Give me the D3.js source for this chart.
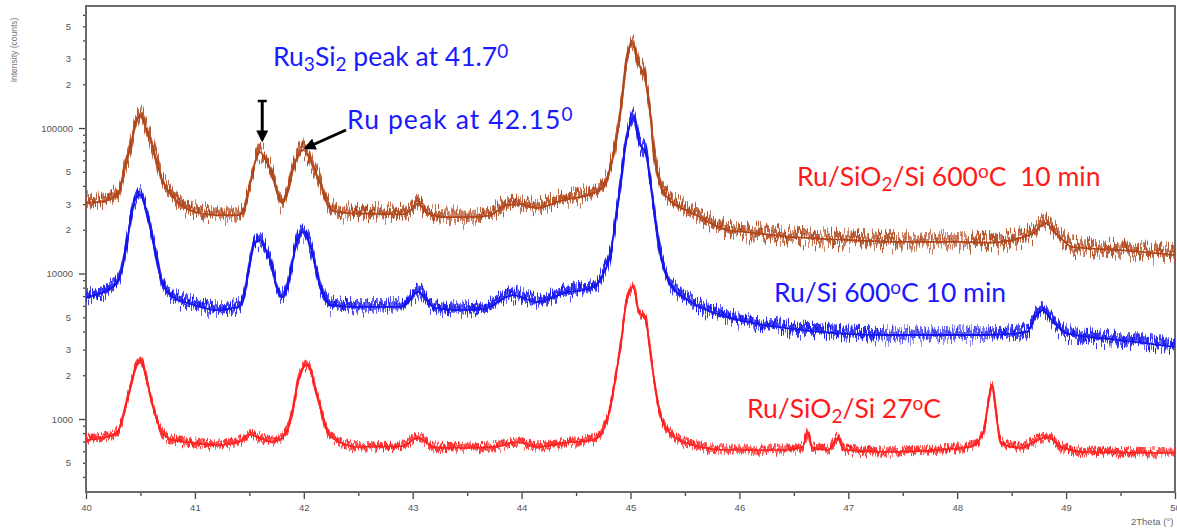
<!DOCTYPE html>
<html>
<head>
<meta charset="utf-8">
<script src="https://cdn.jsdelivr.net/npm/d3@7/dist/d3.min.js"></script>
<style>
  html, body { margin: 0; padding: 0; background: #fff; }
  svg { display: block; }
  .tick text { font-family: "Liberation Sans", Arial, sans-serif; fill: #555; }
  .note { font-family: Lato, "Noto Sans", sans-serif; white-space: pre; }
</style>
</head>
<body>
<svg id="chart" width="1177" height="529"></svg>
<script>
// XRD patterns, 2Theta (degrees) vs intensity (counts), log scale

// Ru/SiO2/Si annealed at 600 °C for 10 min
const annealedOxideTheta = [40.00, 40.10, 40.20, 40.30, 40.35, 40.40, 40.45, 40.50, 40.55, 40.60, 40.65, 40.70, 40.80, 40.90, 41.00, 41.20, 41.40, 41.45, 41.50, 41.55, 41.60, 41.65, 41.70, 41.75, 41.80, 41.85, 41.90, 41.95, 42.00, 42.05, 42.10, 42.15, 42.20, 42.25, 42.40, 42.60, 42.90, 43.00, 43.05, 43.12, 43.30, 43.50, 43.70, 43.87, 44.00, 44.14, 44.38, 44.66, 44.75, 44.81, 44.87, 44.92, 44.96, 45.02, 45.07, 45.13, 45.18, 45.22, 45.27, 45.36, 45.57, 45.89, 46.00, 46.50, 47.00, 47.50, 48.00, 48.30, 48.58, 48.70, 48.81, 48.92, 49.06, 49.50, 50.00];
const annealedOxideCounts = [30500, 31000, 32000, 35700, 51400, 70600, 101600, 123000, 100000, 78900, 58400, 44000, 33600, 28700, 26500, 25200, 25200, 27000, 39300, 57400, 68400, 60200, 49900, 37500, 30500, 35700, 51400, 65200, 70600, 62200, 51400, 41900, 32000, 27300, 26000, 25800, 25500, 28000, 30500, 26500, 24400, 24400, 25000, 29600, 30000, 28200, 32000, 35700, 39300, 51400, 82700, 148000, 280000, 384000, 280000, 224000, 127000, 63200, 41900, 32000, 26100, 19900, 19500, 17800, 17000, 16500, 16500, 16300, 17600, 19000, 22200, 18400, 15200, 14500, 13400];

// Ru/Si annealed at 600 °C for 10 min
const annealedSiTheta = [40.00, 40.20, 40.30, 40.35, 40.40, 40.45, 40.50, 40.55, 40.60, 40.65, 40.70, 40.80, 40.90, 41.00, 41.20, 41.40, 41.45, 41.50, 41.55, 41.60, 41.65, 41.70, 41.75, 41.80, 41.85, 41.90, 41.95, 42.00, 42.05, 42.10, 42.15, 42.20, 42.25, 42.50, 42.90, 43.05, 43.20, 43.40, 43.65, 43.92, 44.14, 44.38, 44.66, 44.75, 44.81, 44.86, 44.91, 44.95, 45.00, 45.03, 45.08, 45.14, 45.18, 45.23, 45.28, 45.36, 45.57, 45.89, 46.43, 47.36, 48.27, 48.64, 48.72, 48.78, 48.89, 49.00, 49.50, 50.00];
const annealedSiCounts = [6890, 7700, 9020, 12400, 20900, 32000, 34700, 27300, 19000, 12400, 8610, 6890, 6370, 6070, 5610, 5890, 6890, 11100, 16200, 17000, 14500, 11800, 8080, 6890, 8080, 12400, 17800, 19300, 16200, 11800, 8080, 6580, 6070, 5890, 5900, 7470, 5800, 5610, 5700, 7110, 6370, 7300, 8080, 9940, 13000, 22200, 41900, 74000, 108000, 119000, 78900, 67300, 44000, 22200, 13000, 8610, 6270, 5030, 4220, 3780, 3780, 3960, 5030, 5610, 4570, 3900, 3490, 3130];

// Ru/SiO2/Si as deposited, 27 °C
const asDepositedTheta = [40.00, 40.20, 40.30, 40.35, 40.40, 40.45, 40.50, 40.55, 40.60, 40.65, 40.70, 40.80, 41.00, 41.20, 41.40, 41.50, 41.60, 41.70, 41.80, 41.85, 41.90, 41.95, 42.00, 42.03, 42.08, 42.10, 42.15, 42.20, 42.25, 42.50, 42.90, 43.05, 43.20, 43.50, 43.80, 43.95, 44.14, 44.38, 44.66, 44.75, 44.81, 44.87, 44.92, 44.96, 45.03, 45.07, 45.14, 45.18, 45.23, 45.28, 45.36, 45.57, 45.89, 46.43, 46.58, 46.63, 46.67, 46.82, 46.90, 46.96, 47.36, 48.12, 48.24, 48.29, 48.32, 48.35, 48.40, 48.58, 48.74, 48.83, 48.95, 49.20, 50.00];
const asDepositedCounts = [718, 752, 840, 1100, 1580, 2170, 2540, 1940, 1350, 985, 802, 718, 684, 662, 695, 776, 741, 695, 741, 840, 1150, 1850, 2280, 2350, 1940, 1660, 1210, 881, 752, 642, 650, 741, 640, 632, 650, 695, 642, 684, 718, 840, 1150, 2070, 3660, 6270, 8080, 5610, 4790, 2980, 1580, 1030, 802, 662, 612, 612, 642, 815, 632, 612, 741, 612, 593, 642, 802, 1350, 1710, 1210, 684, 632, 718, 752, 642, 593, 584];

// Axis ticks
const xMajorTicks = [40, 41, 42, 43, 44, 45, 46, 47, 48, 49, 50];
const xMinorTicks = [40.5, 41.5, 42.5, 43.5, 44.5, 45.5, 46.5, 47.5, 48.5, 49.5];
const yMajorTicks = [1000, 10000, 100000];
const yMinorTicks = [400, 500, 600, 700, 800, 900,
  2000, 3000, 4000, 5000, 6000, 7000, 8000, 9000,
  20000, 30000, 40000, 50000, 60000, 70000, 80000, 90000,
  200000, 300000, 400000, 500000, 600000];
const yMinorLabelled = [2, 3, 5];

const svg = d3.select("#chart");
const plotLeft = 86, plotRight = 1175, plotTop = 6, plotBottom = 492;

const x = d3.scaleLinear().domain([40, 50]).range([plotLeft, plotRight]);
const y = d3.scaleLog().domain([315, 690000]).range([plotBottom, plotTop]);

// Counting-noise texture for the traces: the stroke is stretched vertically
// only, then each pixel column is shifted up or down.
const defs = svg.append("defs");
function noiseFilter(id, stretch, scale, seed, freq) {
  const f = defs.append("filter").attr("id", id)
    .attr("filterUnits", "userSpaceOnUse")
    .attr("color-interpolation-filters", "sRGB")
    .attr("x", 0).attr("y", 0).attr("width", 1177).attr("height", 529);
  f.append("feMorphology").attr("in", "SourceGraphic").attr("operator", "dilate")
    .attr("radius", `0 ${stretch}`).attr("result", "tall");
  f.append("feTurbulence").attr("type", "fractalNoise")
    .attr("baseFrequency", `${freq} 0.01`).attr("numOctaves", 1)
    .attr("seed", seed).attr("result", "n");
  f.append("feColorMatrix").attr("in", "n").attr("type", "matrix")
    .attr("values", "2.6 0 0 0 -0.68  0 0 0 0 0.5  0 0 0 0 0  0 0 0 0 1")
    .attr("result", "m");
  f.append("feDisplacementMap").attr("in", "tall").attr("in2", "m")
    .attr("scale", scale).attr("xChannelSelector", "G").attr("yChannelSelector", "R");
}
noiseFilter("noiseBrownA", 2, 20, 4, 1.4);
noiseFilter("noiseBrownB", 3, 12, 11, 0.8);
noiseFilter("noiseBlueA", 2, 17, 9, 1.4);
noiseFilter("noiseBlueB", 2.5, 10, 17, 0.8);
noiseFilter("noiseRedA", 1, 10, 2, 1.4);
noiseFilter("noiseRedB", 1.5, 6, 23, 0.8);

defs.append("marker").attr("id", "head")
  .attr("viewBox", "0 0 10 10").attr("refX", 8).attr("refY", 5)
  .attr("markerWidth", 4).attr("markerHeight", 4).attr("orient", "auto")
  .append("path").attr("d", "M0,0 L10,5 L0,10 Z").attr("fill", "#000");

// Axes
const axisFont = 9.5, axisColor = "#6a6a6a";

const gx = svg.append("g").attr("transform", `translate(0,${plotBottom})`);
gx.call(d3.axisBottom(x).tickValues(xMajorTicks).tickSize(7).tickPadding(5).tickFormat(d3.format("d")));
gx.append("g").call(d3.axisBottom(x).tickValues(xMinorTicks).tickSize(4).tickFormat(""));
gx.selectAll(".domain").remove();
gx.selectAll("line").attr("stroke", "#444").attr("stroke-width", 1.3);
gx.selectAll("text").attr("font-size", axisFont);

const gy = svg.append("g").attr("transform", `translate(${plotLeft},0)`);
gy.call(d3.axisLeft(y).tickValues(yMajorTicks).tickSize(7).tickPadding(6).tickFormat(d3.format("d")));
gy.append("g").call(d3.axisLeft(y).tickValues(yMinorTicks).tickSize(3).tickPadding(12)
  .tickFormat(d => {
    const lead = Math.round(d / Math.pow(10, Math.floor(Math.log10(d) + 1e-9)));
    return yMinorLabelled.includes(lead) ? String(lead) : "";
  }));
gy.selectAll(".domain").remove();
gy.selectAll("line").attr("stroke", "#444").attr("stroke-width", 1.3);
gy.selectAll("text").attr("font-size", axisFont);

// Plot frame
svg.append("rect").attr("x", plotLeft).attr("y", plotTop)
  .attr("width", plotRight - plotLeft).attr("height", plotBottom - plotTop)
  .attr("fill", "none").attr("stroke", axisColor).attr("stroke-width", 2);

// Axis titles
svg.append("text").attr("transform", "translate(17,50) rotate(-90)")
  .attr("text-anchor", "middle").attr("font-size", 8.5)
  .attr("font-family", "Liberation Sans, Arial, sans-serif").attr("fill", "#777")
  .text("Intensity (counts)");
svg.append("text").attr("x", 1131).attr("y", 525)
  .attr("font-size", 9.5).attr("font-family", "Liberation Sans, Arial, sans-serif").attr("fill", "#666")
  .text("2Theta (°)");

// Traces
const line = d3.line().x(d => x(d[0])).y(d => y(d[1])).curve(d3.curveMonotoneX);
const plotArea = svg.append("g");
const series = [
  { theta: asDepositedTheta, counts: asDepositedCounts, color: "#ff1f1f", noise: "noiseRed", w: 1.6 },
  { theta: annealedSiTheta, counts: annealedSiCounts, color: "#1414f0", noise: "noiseBlue", w: 1.8 },
  { theta: annealedOxideTheta, counts: annealedOxideCounts, color: "#b0461a", noise: "noiseBrown", w: 1.8 }
];
series.forEach(s => {
  const pts = s.theta.map((t, i) => [t, s.counts[i]]);
  plotArea.append("path").datum(pts).attr("d", line)
    .attr("fill", "none").attr("stroke", s.color).attr("stroke-width", 1.4)
    .attr("filter", `url(#${s.noise}B)`).attr("opacity", 0.85);
  plotArea.append("path").datum(pts).attr("d", line)
    .attr("fill", "none").attr("stroke", s.color).attr("stroke-width", 1.2)
    .attr("filter", `url(#${s.noise}A)`).attr("opacity", 0.9);
  plotArea.append("path").datum(pts).attr("d", line)
    .attr("fill", "none").attr("stroke", s.color).attr("stroke-width", s.w)
    .attr("stroke-linejoin", "round");
});

// Annotations
function label(px, py, color, spacing, parts) {
  const t = svg.append("text").attr("class", "note").attr("x", px).attr("y", py)
    .attr("font-size", 26.5).attr("letter-spacing", spacing).attr("fill", color);
  parts.forEach(p => {
    const ts = t.append("tspan").text(p.s);
    if (p.sub) ts.attr("font-size", 19).attr("baseline-shift", "-24%");
    if (p.sup) ts.attr("font-size", 19).attr("baseline-shift", "42%");
  });
  return t;
}
label(273, 66, "#1a1aff", 0, [{ s: "Ru" }, { s: "3", sub: true }, { s: "Si" }, { s: "2", sub: true }, { s: " peak at 41.7" }, { s: "0", sup: true }]);
label(347, 129, "#1a1aff", 1.1, [{ s: "Ru peak at 42.15" }, { s: "0", sup: true }]);
label(797, 186, "#ff1a1a", 0, [{ s: "Ru/SiO" }, { s: "2", sub: true }, { s: "/Si 600" }, { s: "o", sup: true }, { s: "C  10 min" }]);
label(774, 302, "#1a1aff", 0, [{ s: "Ru/Si 600" }, { s: "o", sup: true }, { s: "C 10 min" }]);
label(747, 418, "#ff1a1a", 0, [{ s: "Ru/SiO" }, { s: "2", sub: true }, { s: "/Si 27" }, { s: "o", sup: true }, { s: "C" }]);

// Arrows pointing at the two neighbouring peaks of the 600 °C Ru/SiO2/Si trace
const arrowX = x(41.6) + 2;
svg.append("line").attr("x1", arrowX - 4.5).attr("x2", arrowX + 4.5).attr("y1", 101).attr("y2", 101)
  .attr("stroke", "#000").attr("stroke-width", 2.5);
svg.append("line").attr("x1", arrowX).attr("x2", arrowX).attr("y1", 101).attr("y2", 140)
  .attr("stroke", "#000").attr("stroke-width", 3).attr("marker-end", "url(#head)");
svg.append("line").attr("x1", 346).attr("y1", 130).attr("x2", x(42.0) + 2).attr("y2", 148)
  .attr("stroke", "#000").attr("stroke-width", 3).attr("marker-end", "url(#head)");
</script>
</body>
</html>
